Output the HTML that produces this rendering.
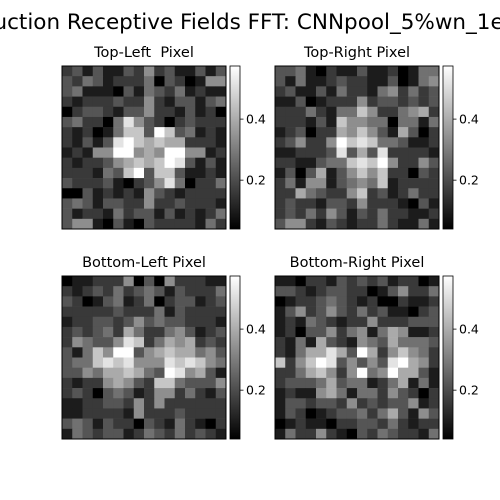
<!DOCTYPE html>
<html><head><meta charset="utf-8"><style>
html,body{margin:0;padding:0;background:#fff;overflow:hidden;}
svg{display:block;}
svg text{font-family:"DejaVu Sans","Liberation Sans",sans-serif;white-space:pre;}
</style></head><body>
<svg id="chart" width="500" height="500" viewBox="0 0 500 500" xmlns="http://www.w3.org/2000/svg">
<text x="219" y="29" text-anchor="middle" font-size="21.5" fill="#000">Reconstruction Receptive Fields FFT: CNNpool_5%wn_1e-05</text>
</svg>
<script>
const vmin = 0.04, vmax = 0.574;
const colorbarTicks = [0.2, 0.4];
const panelTitles = ["Top-Left  Pixel", "Top-Right Pixel", "Bottom-Left Pixel", "Bottom-Right Pixel"];
const gridTL = [
"2313113252311313","3243122240320155","3411103143241211","2122232252133134",
"0233213352213120","3422048532023222","2120147739734121","2131389767662221",
"1215599565995512","2122356767983131","2221437937731121","3222310235840224",
"0031212153212222","3431332252232221","3122142331312124","3551031032222142"];
const gridTR = [
"3341021131120144","3141123221130145","2311314221452423","1130122252332323",
"2224214475224562","2221317554404414","1230226575316302","2352259787443112",
"1122238363822221","2211344787952253","1303613575722032","2415513454712222",
"2264322572312422","2322133252221031","2324253132422112","3552132122421141"];
const gridBL = [
"0112225030522211","2123242343132224","3201341240233123","2222232224132222",
"1223323534332221","2323426422453123","2543358724656232","3147599356766453",
"3447878555878754","3354667643985631","2122565327743335","2320343125524213",
"1122332525222222","1122221522232222","3431322032142102","1432331243242321"];
const gridBR = [
"1102213232312201","3321233220135224","0122343212002112","1352353242311023",
"1214321225222333","1203352451465112","2141632154364443","2146686396257542",
"7257983535389652","2246752594596631","2333463441246141","1211564144253202",
"1332332523233512","1320123342463153","0121102233242122","1422521032432214"];
const grids = [gridTL, gridTR, gridBL, gridBR];

const svg = document.getElementById('chart');
const NS = 'http://www.w3.org/2000/svg';
const layout = [
 {x:62,y:66},{x:275,y:66},{x:62,y:276},{x:275,y:276}];
const W = 164, H = 163;
function val(ch){ return vmin + (parseInt(ch,10)/9)*(vmax-vmin); }
function gray(v){ const g = Math.round(Math.max(0,Math.min(1,(v-vmin)/(vmax-vmin)))*255); return `rgb(${g},${g},${g})`; }
function mk(tag, attrs){ const e = document.createElementNS(NS, tag); for (const k in attrs) e.setAttribute(k, attrs[k]); return e; }

grids.forEach((grid, p) => {
  const L = layout[p];
  const g = mk('g', {});
  
  
  svg.appendChild(g);
  const n = grid.length, m = grid[0].length;
  const cw = W / m, chh = H / n;
  for (let r = 0; r < n; r++) for (let c = 0; c < m; c++) {
    const v = val(grid[r][c]);
    const rect = mk('rect', {x: L.x + c*cw, y: L.y + r*chh, width: cw+0.3, height: chh+0.3, fill: gray(v)});
    
    
    g.appendChild(rect);
  }
  const frame = mk('rect', {x: L.x, y: L.y, width: W, height: H, fill: 'none', stroke: '#000', 'stroke-width': 1});
  
  
  svg.appendChild(frame);
  const t = mk('text', {x: L.x + W/2, y: L.y - 9, 'text-anchor': 'middle', 'font-size': 14.5});
  t.textContent = panelTitles[p];
  
  
  svg.appendChild(t);
  const cbx = L.x + W + 4, cbw = 10;
  const grad = mk('linearGradient', {id: 'cb' + p, x1: 0, y1: 1, x2: 0, y2: 0});
  grad.appendChild(mk('stop', {offset: 0, 'stop-color': '#000'}));
  grad.appendChild(mk('stop', {offset: 1, 'stop-color': '#fff'}));
  svg.appendChild(grad);
  const cb = mk('rect', {x: cbx, y: L.y, width: cbw, height: H, fill: 'url(#cb' + p + ')', stroke: '#000', 'stroke-width': 0.8});
  
  
  svg.appendChild(cb);
  colorbarTicks.forEach(tv => {
    const ty = L.y + H - (tv - vmin)/(vmax - vmin) * H;
    svg.appendChild(mk('line', {x1: cbx+cbw, x2: cbx+cbw+3.5, y1: ty, y2: ty, stroke: '#000', 'stroke-width': 0.8}));
    const lt = mk('text', {x: cbx+cbw+6, y: ty+4.5, 'font-size': 12.5});
    lt.textContent = tv.toFixed(1);
    
    
    svg.appendChild(lt);
  });
});
</script>
</body></html>
